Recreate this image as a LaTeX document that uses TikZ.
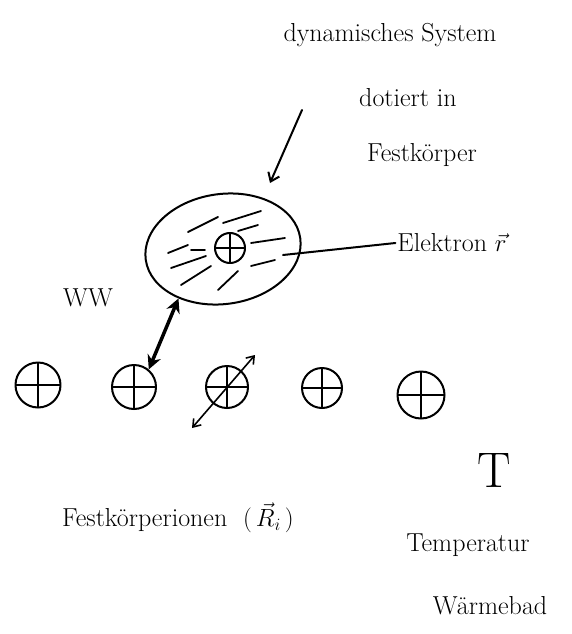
\documentclass[tikz,border=0pt]{standalone}
\usetikzlibrary{shapes.geometric,arrows.meta}
\begin{document}
\begin{tikzpicture}[x=1pt,y=-1pt,line width=2pt,line cap=round,line join=round,
  lbl/.style={font=\fontsize{26}{30}\selectfont,align=center,inner sep=1pt},
  plusion/.style={circle,draw,line width=2pt,minimum size=#1,inner sep=0pt,
    path picture={\draw[line width=2pt] (path picture bounding box.north) -- (path picture bounding box.south)
      (path picture bounding box.west) -- (path picture bounding box.east);}},
  hatch/.style={line width=1.8pt},
  thickarrow/.style={line width=3.5pt,{Stealth[length=14pt,width=14pt]}-{Stealth[length=14pt,width=14pt]}},
  thinarrow/.style={line width=1.6pt,{Straight Barb[length=7pt,width=10pt]}-{Straight Barb[length=7pt,width=10pt]}},
  ptr/.style={line width=2pt,-{Straight Barb[length=8pt,width=12pt]}}]
\useasboundingbox (0,0) rectangle (571,634);

% texts
\node[lbl] (sys1) at (390,35) {dynamisches System};
\node[lbl] (sys2) at (408,98) {dotiert in};
\node[lbl] (sys3) at (422,155) {Festkörper};
\coordinate (ptrstart) at (302,110);
\coordinate (ptrend) at (270,183);

% dynamic system
\node[ellipse,draw,minimum width=156pt,minimum height=110pt,rotate=8] (dsys) at (223,249) {};
\node[plusion=30pt] (core) at (230,248) {};
\draw[hatch] (188,232) -- (218,217);
\draw[hatch] (223,223) -- (261,211);
\draw[hatch] (238,231) -- (258,225);
\draw[hatch] (251,243) -- (285,238);
\draw[hatch] (251,266) -- (275,260);
\draw[hatch] (168,253) -- (188,245);
\draw[hatch] (191,250) -- (205,250);
\draw[hatch] (171,268) -- (206,256);
\draw[hatch] (181,285) -- (211,266);
\draw[hatch] (218,290) -- (238,271);

\draw[ptr] (ptrstart) -- (ptrend);

\node[lbl] (elec) at (452,243) {Elektron $\vec r$};
\coordinate (elecin) at (283,255);
\draw (elecin) -- (elec.west);

\node[lbl] (ww) at (88,298) {WW};

% ions
\node[plusion=45pt] (i1) at (38,385) {};
\node[plusion=44pt] (i2) at (134,387) {};
\node[plusion=42pt] (i3) at (227,387) {};
\node[plusion=40pt] (i4) at (322,388) {};
\node[plusion=47pt] (i5) at (421,395) {};

\draw[thickarrow] (dsys.-140) -- (i2.50);
\coordinate (va) at (192,428);
\coordinate (vb) at (255,355);
\draw[thinarrow] (va) -- (vb);

\node[lbl] (ions) at (178,518) {Festkörperionen \ $(\,\vec R_i\,)$};
\node[font=\fontsize{50}{54}\selectfont,inner sep=0pt] (temp) at (494,470) {T};
\node[lbl] (tt1) at (468,545) {Temperatur};
\node[lbl] (tt2) at (490,606) {Wärmebad};
\end{tikzpicture}
\end{document}
